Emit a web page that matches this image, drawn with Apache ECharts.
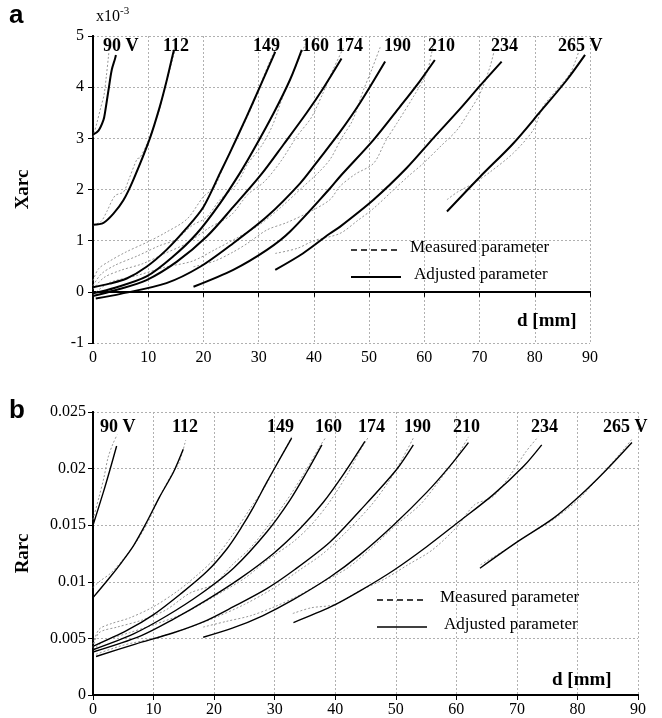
<!DOCTYPE html>
<html>
<head>
<meta charset="utf-8">
<script src="https://cdn.jsdelivr.net/npm/echarts@6/dist/echarts.min.js"></script>
<style>
  html, body { margin: 0; padding: 0; background: #fff; }
  #main { width: 662px; height: 718px; }
</style>
</head>
<body>
<div id="main"></div>
<script>
// voltages for the curves
var voltages = ['90', '112', '149', '160', '174', '190', '210', '234', '265'];

// panel a: Xarc (x10^-3) against d [mm]
var a90Adj = [[0, 3.07], [1, 3.15], [1.9, 3.36], [2.2, 3.52], [2.8, 3.94], [3.4, 4.34], [4.0, 4.56], [4.15, 4.63]];
var a112Adj = [[0, 1.31], [1.9, 1.35], [3.7, 1.53], [5.5, 1.79], [7.3, 2.19], [10.3, 3.0], [12.1, 3.62], [13.3, 4.11], [14.5, 4.66], [14.7, 4.73]];
var a149Adj = [[0, 0.09], [3, 0.16], [6.1, 0.26], [9.7, 0.49], [13.3, 0.82], [16.9, 1.24], [20, 1.66], [23, 2.32], [24.8, 2.72], [27.8, 3.42], [30.2, 4.0], [33, 4.69]];
var a160Adj = [[0, -0.03], [4, 0.08], [9.7, 0.30], [14.5, 0.69], [18.8, 1.14], [23, 1.73], [26.6, 2.32], [29, 2.76], [32.7, 3.49], [35.7, 4.15], [37.8, 4.73]];
var a174Adj = [[0, -0.08], [4, 0.03], [9.7, 0.23], [15.2, 0.59], [20.6, 1.08], [25.4, 1.66], [30.5, 2.3], [34.5, 2.88], [38.7, 3.5], [41.7, 3.98], [45, 4.56]];
var a190Adj = [[0.5, -0.13], [5, -0.04], [13.3, 0.17], [19.4, 0.49], [25.4, 0.95], [31.5, 1.47], [37.5, 2.12], [41, 2.6], [44.7, 3.12], [48.4, 3.7], [52.9, 4.5]];
var a210Adj = [[18.2, 0.10], [25.4, 0.43], [31.5, 0.82], [35.7, 1.18], [42.9, 2.02], [44.7, 2.25], [50.8, 2.97], [55.6, 3.62], [59.2, 4.12], [61.9, 4.53]];
var a234Adj = [[33, 0.43], [38, 0.75], [42.9, 1.14], [44.7, 1.27], [50.8, 1.80], [56.8, 2.42], [61.6, 3.0], [66.5, 3.58], [70.1, 4.03], [74, 4.5]];
var a265Adj = [[64.1, 1.57], [70.1, 2.25], [76.1, 2.90], [81, 3.52], [85.8, 4.14], [89.1, 4.63]];

var a90Meas = [[0, 3.02], [0.7, 3.3], [1.4, 3.6], [2.0, 3.85], [2.4, 4.2], [2.8, 4.6], [3.1, 4.95]];
var a112Meas = [[0, 1.3], [1.5, 1.38], [2.5, 1.57], [4, 1.88], [5.5, 1.95], [6.5, 2.2], [8, 2.6], [8.5, 2.62], [10, 2.95], [12, 3.55], [13, 4.0], [13.8, 4.3], [14.8, 4.7]];
var a149Meas = [[0, 0.22], [1, 0.45], [3, 0.6], [6, 0.78], [10, 0.98], [13, 1.15], [17, 1.42], [20, 1.86], [22, 2.05], [24, 2.55], [26.5, 3.1], [28.5, 3.55], [30.5, 4.1], [32, 4.5], [33.5, 4.85]];
var a160Meas = [[0, 0.12], [1.5, 0.35], [4, 0.52], [8, 0.7], [12, 0.9], [15, 1.02], [18, 1.3], [20.5, 1.45], [23, 1.8], [26, 2.1], [28, 2.5], [30.5, 2.85], [32.5, 3.25], [34.5, 3.85], [36.5, 4.35], [38.5, 4.85]];
var a174Meas = [[0, 0.05], [2, 0.28], [5, 0.42], [9, 0.55], [13, 0.75], [17, 0.95], [21, 1.25], [25, 1.5], [28, 1.9], [31, 2.15], [34, 2.55], [37, 3.05], [39.5, 3.4], [41.5, 3.85], [43.5, 4.35], [45.5, 4.8]];
var a190Meas = [[0, -0.05], [3, 0.18], [8, 0.32], [13, 0.48], [18, 0.6], [22, 0.82], [26, 1.05], [30, 1.3], [34, 1.65], [38, 2.05], [41, 2.35], [43, 2.6], [45, 3.0], [47, 3.35], [49, 3.95], [50.5, 4.35], [52, 4.78]];
var a210Meas = [[18.2, 0.49], [22, 0.6], [25.4, 0.78], [28, 0.95], [31.5, 1.21], [35, 1.35], [39, 1.55], [42.9, 1.8], [44.7, 2.06], [47.5, 2.3], [50.8, 2.51], [53, 2.95], [55, 3.29], [58, 3.81], [60.4, 4.27], [61.3, 4.66], [61.8, 4.9]];
var a234Meas = [[33, 0.75], [37, 0.85], [40, 1.0], [44.7, 1.14], [48, 1.4], [50.8, 1.63], [54, 1.95], [57, 2.25], [59.8, 2.51], [63, 2.85], [65.9, 3.16], [68, 3.5], [70.1, 3.88], [71.9, 4.4], [72.8, 4.78]];
var a265Meas = [[64.1, 1.8], [66, 1.95], [68.9, 2.12], [72, 2.35], [76.1, 2.71], [79.7, 3.16], [81.5, 3.62], [84, 3.95], [86.4, 4.27], [87.5, 4.55], [88.2, 4.78]];

// panel b: Rarc against d [mm]
var b90Adj = [[0, 0.0150], [1.7, 0.0179], [2.8, 0.0199], [3.9, 0.0220]];
var b112Adj = [[0, 0.0086], [2.8, 0.0104], [4.7, 0.0117], [6.7, 0.0132], [8.6, 0.0150], [11, 0.0175], [13.3, 0.0197], [14.9, 0.0217]];
var b149Adj = [[0, 0.0043], [5.6, 0.0057], [10, 0.0071], [14.4, 0.0089], [18.8, 0.0109], [22.1, 0.0129], [24.5, 0.0148], [26.5, 0.0166], [28.7, 0.0188], [30.9, 0.0209], [32.8, 0.0227]];
var b160Adj = [[0, 0.0040], [6.7, 0.0054], [12.2, 0.0070], [17.7, 0.0089], [23.2, 0.0112], [28.7, 0.0144], [32.5, 0.0172], [35.3, 0.0197], [37.8, 0.0221]];
var b174Adj = [[0, 0.0038], [7.8, 0.0052], [13.3, 0.0067], [18.8, 0.0084], [24.3, 0.0103], [29.8, 0.0125], [34.2, 0.0147], [38, 0.0170], [41.5, 0.0196], [44.9, 0.0224]];
var b190Adj = [[0.5, 0.0034], [7, 0.0045], [13.3, 0.0055], [18.8, 0.0066], [23.2, 0.0078], [28.7, 0.0094], [33.1, 0.0110], [39.1, 0.0135], [44.1, 0.0163], [50.1, 0.0199], [52.9, 0.0221]];
var b210Adj = [[18.2, 0.0051], [23, 0.0059], [28, 0.0070], [33, 0.0084], [39.1, 0.0104], [44.1, 0.0124], [49.6, 0.0150], [55.1, 0.0179], [58.9, 0.0202], [62, 0.0223]];
var b234Adj = [[33.1, 0.0064], [39.3, 0.0078], [44.1, 0.0092], [49.6, 0.0110], [55.1, 0.0131], [60.4, 0.0153], [66.1, 0.0177], [71.1, 0.0202], [74.1, 0.0221]];
var b265Adj = [[63.9, 0.0112], [70, 0.0135], [76, 0.0156], [80.4, 0.0176], [84.8, 0.0199], [89, 0.0223]];

var b90Meas = [[0, 0.0155], [1, 0.0175], [1.8, 0.0192], [2.5, 0.0210], [3.3, 0.0222], [4, 0.0230]];
var b112Meas = [[0, 0.0095], [1, 0.0100], [3, 0.0108], [5, 0.0120], [7, 0.0134], [9, 0.0152], [11, 0.0175], [13, 0.0195], [14.2, 0.0205], [15.3, 0.0225]];
var b149Meas = [[0, 0.0045], [1, 0.0058], [3, 0.0063], [6, 0.0068], [10, 0.0078], [14, 0.0092], [17, 0.0105], [20, 0.0120], [23, 0.0141], [26, 0.0165], [28.5, 0.0185], [31, 0.0210], [32.8, 0.0228]];
var b160Meas = [[0, 0.0042], [1, 0.0055], [4, 0.0060], [8, 0.0066], [12, 0.0075], [16, 0.0090], [20, 0.0098], [23, 0.0115], [26, 0.0130], [29, 0.0150], [32, 0.0172], [35, 0.0197], [37.5, 0.0220], [38.5, 0.0228]];
var b174Meas = [[0, 0.0040], [2, 0.0048], [6, 0.0055], [10, 0.0062], [15, 0.0072], [20, 0.0087], [25, 0.0103], [29, 0.0120], [33, 0.0135], [36, 0.0150], [39, 0.0170], [42, 0.0195], [44, 0.0215], [45.5, 0.0228]];
var b190Meas = [[0.5, 0.0036], [5, 0.0044], [10, 0.0050], [15, 0.0058], [20, 0.0068], [25, 0.0080], [30, 0.0095], [34, 0.0110], [38, 0.0125], [42, 0.0145], [46, 0.0168], [49, 0.0190], [51, 0.0208], [53, 0.0228]];
var b210Meas = [[18.2, 0.0060], [22, 0.0065], [26, 0.0070], [30, 0.0078], [34, 0.0088], [38, 0.0100], [42, 0.0112], [46, 0.0130], [50, 0.0150], [54, 0.0168], [57, 0.0188], [60, 0.0210], [62, 0.0228]];
var b234Meas = [[33, 0.0072], [36, 0.0077], [40, 0.0080], [44, 0.0092], [48, 0.0102], [52, 0.0115], [56, 0.0128], [60, 0.0148], [63, 0.0168], [66, 0.0175], [69, 0.0195], [71.5, 0.0215], [73.5, 0.0228]];
var b265Meas = [[64, 0.0115], [68, 0.0128], [72, 0.0142], [76, 0.0155], [80, 0.0172], [84, 0.0195], [87, 0.0213], [89, 0.0226]];

var aAdj = [a90Adj, a112Adj, a149Adj, a160Adj, a174Adj, a190Adj, a210Adj, a234Adj, a265Adj];
var aMeas = [a90Meas, a112Meas, a149Meas, a160Meas, a174Meas, a190Meas, a210Meas, a234Meas, a265Meas];
var bAdj = [b90Adj, b112Adj, b149Adj, b160Adj, b174Adj, b190Adj, b210Adj, b234Adj, b265Adj];
var bMeas = [b90Meas, b112Meas, b149Meas, b160Meas, b174Meas, b190Meas, b210Meas, b234Meas, b265Meas];

var serif = '"Liberation Serif", "DejaVu Serif", serif';
var gridLine = { show: true, lineStyle: { color: '#b0b0b0', width: 1, type: [2, 2] } };
var labelStyle = { color: '#000', fontFamily: serif, fontSize: 16 };

function frameAxis(grid, pos, labels) {
    return {
        type: 'value', gridIndex: grid, position: pos,
        axisLine: { show: true, lineStyle: { color: '#000', width: 2 } },
        axisTick: { show: !labels, inside: true, length: 5, lineStyle: { color: '#000' } },
        axisLabel: labels ? labelStyle : { show: false },
        splitLine: labels ? gridLine : { show: false }
    };
}

function xAxisFor(grid, pos, labels) {
    var ax = frameAxis(grid, pos, labels);
    ax.min = 0; ax.max = 90; ax.interval = 10;
    if (labels) ax.axisLabel = Object.assign({ margin: 7 }, labelStyle);
    return ax;
}

var xAxes = [xAxisFor(0, 'bottom', true), xAxisFor(0, 'top', false), xAxisFor(1, 'bottom', true), xAxisFor(1, 'top', false)];

var yA = frameAxis(0, 'left', true);
yA.min = -1; yA.max = 5; yA.interval = 1;
yA.name = 'Xarc'; yA.nameLocation = 'middle'; yA.nameGap = 60;
yA.nameTextStyle = { fontFamily: serif, fontWeight: 'bold', fontSize: 19, color: '#000' };
yA.axisLabel = Object.assign({ margin: 9 }, labelStyle);
var yA2 = frameAxis(0, 'right', false);
yA2.min = -1; yA2.max = 5; yA2.interval = 1;

var yB = frameAxis(1, 'left', true);
yB.min = 0; yB.max = 0.025; yB.interval = 0.005;
yB.name = 'Rarc'; yB.nameLocation = 'middle'; yB.nameGap = 60;
yB.nameTextStyle = { fontFamily: serif, fontWeight: 'bold', fontSize: 19, color: '#000' };
yB.axisLabel = Object.assign({ margin: 7 }, labelStyle);
var yB2 = frameAxis(1, 'right', false);
yB2.min = 0; yB2.max = 0.025; yB2.interval = 0.005;

var series = [];
function addCurves(list, xi, yi, measured, width) {
    list.forEach(function (pts, i) {
        series.push({
            name: voltages[i] + (measured ? ' measured' : ' adjusted'),
            type: 'line', xAxisIndex: xi, yAxisIndex: yi,
            data: pts, symbol: 'none', smooth: 0.3, silent: true,
            z: measured ? 2 : 3,
            lineStyle: measured ? { color: '#8a8a8a', width: 0.9, type: [2, 2] } : { color: '#000', width: width }
        });
    });
}
addCurves(aMeas, 0, 0, true);
addCurves(aAdj, 0, 0, false, 2);
addCurves(bMeas, 2, 2, true);
addCurves(bAdj, 2, 2, false, 1.4);

var boldSerif = { fontFamily: serif, fontWeight: 'bold', fontSize: 18, fill: '#000' };
function vText(txt, x, y) {
    return { type: 'text', left: x, top: y, z: 10, style: Object.assign({ text: txt }, boldSerif) };
}
var aLabelX = [103, 163, 253, 302, 336, 384, 428, 491, 558];
var bLabelX = [100, 172, 267, 315, 358, 404, 453, 531, 603];
var graphics = [];
voltages.forEach(function (v, i) {
    var t = (i === 0 || i === 8) ? v + ' V' : v;
    graphics.push(vText(t, aLabelX[i], 37));
    graphics.push(vText(t, bLabelX[i], 418));
});

function legendBlock(x, y, x2, w) {
    return [
        { type: 'line', shape: { x1: x, y1: y, x2: x + 50, y2: y }, style: { stroke: '#000', lineWidth: 1.6, lineDash: [6, 4] }, z: 10 },
        { type: 'text', left: x2, top: y - 11, z: 10, style: { text: 'Measured parameter', fontFamily: serif, fontSize: 17, fill: '#000' } },
        { type: 'line', shape: { x1: x, y1: y + 27, x2: x + 50, y2: y + 27 }, style: { stroke: '#000', lineWidth: w }, z: 10 },
        { type: 'text', left: x2 + 4, top: y + 16, z: 10, style: { text: 'Adjusted parameter', fontFamily: serif, fontSize: 17, fill: '#000' } }
    ];
}
graphics = graphics.concat(legendBlock(351, 250, 410, 2), legendBlock(377, 600, 440, 1.4));

graphics.push({ type: 'text', left: 517, top: 312, z: 10, style: { text: 'd [mm]', fontFamily: serif, fontWeight: 'bold', fontSize: 19, fill: '#000' } });
graphics.push({ type: 'text', left: 552, top: 671, z: 10, style: { text: 'd [mm]', fontFamily: serif, fontWeight: 'bold', fontSize: 19, fill: '#000' } });
graphics.push({ type: 'text', left: 96, top: 6, z: 10, style: {
    text: '{b|x10}{s|-3}', rich: { b: { fontFamily: serif, fontSize: 16, fill: '#000' }, s: { fontFamily: serif, fontSize: 11, fill: '#000', verticalAlign: 'top', padding: [0, 0, 10, 0] } }
} });
graphics.push({ type: 'text', left: 9, top: 3, z: 10, style: { text: 'a', fontFamily: '"Liberation Sans", Arial, sans-serif', fontWeight: 'bold', fontSize: 26, fill: '#000' } });
graphics.push({ type: 'text', left: 9, top: 398, z: 10, style: { text: 'b', fontFamily: '"Liberation Sans", Arial, sans-serif', fontWeight: 'bold', fontSize: 26, fill: '#000' } });

var chart = echarts.init(document.getElementById('main'));
chart.setOption({
    animation: false,
    backgroundColor: '#fff',
    grid: [
        { left: 93, top: 36, width: 497, height: 307 },
        { left: 93, top: 412, width: 545, height: 286 }
    ],
    xAxis: xAxes,
    yAxis: [yA, yA2, yB, yB2],
    series: series,
    graphic: graphics
});
window.addEventListener('resize', chart.resize);
</script>
</body>
</html>
